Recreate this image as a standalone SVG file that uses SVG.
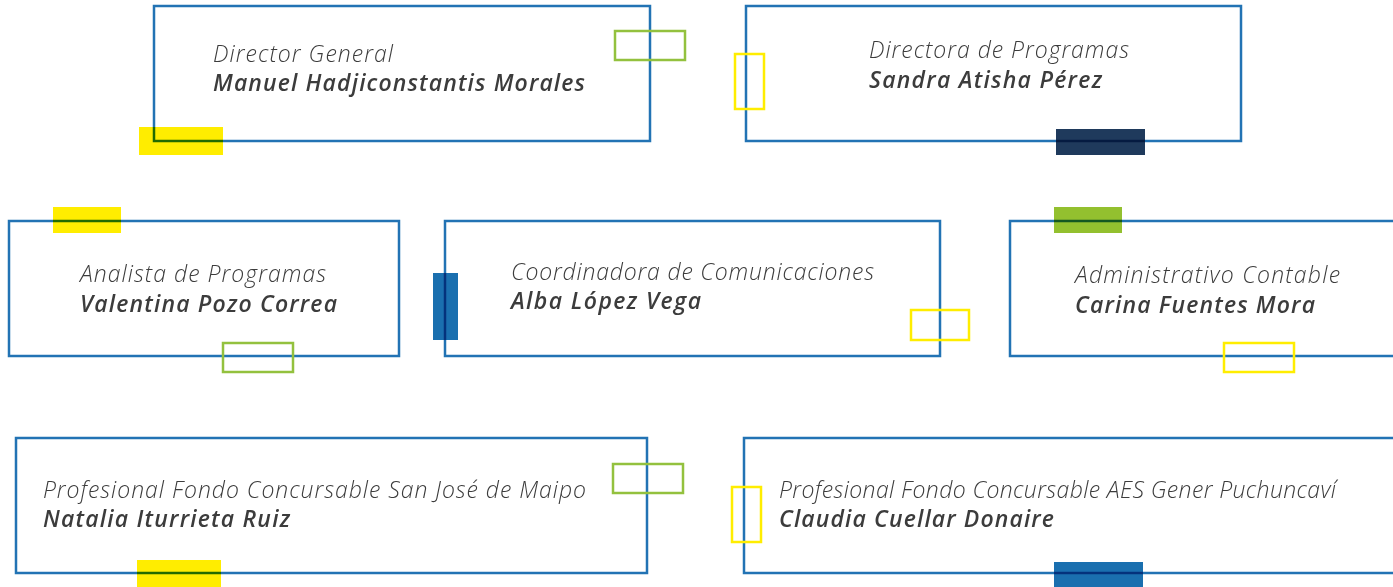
<svg xmlns="http://www.w3.org/2000/svg" width="1393" height="587" viewBox="0 0 1393 587">
<style>
.box{fill:none;stroke:#2273b4;stroke-width:2.5;mix-blend-mode:multiply}
.t{font-family:"Open Sans","Noto Sans",sans-serif;font-style:italic;font-weight:300;font-size:23px;fill:#3c3c3c}
.n{font-family:"Open Sans","Noto Sans",sans-serif;font-style:italic;font-weight:600;font-size:23px;fill:#3c3c3c}
.yf{fill:#ffed00}
.gf{fill:#93c02f}
.nf{fill:#1f3a5c}
.bf{fill:#1a6faf}
.yo{fill:none;stroke:#ffed00;stroke-width:2.5}
.go{fill:none;stroke:#93c13e;stroke-width:2.5}
</style>
<rect width="1393" height="587" fill="#ffffff"/>
<g id="connectors"></g>
<g id="node-director-general">
<rect class="yf" x="139" y="127" width="84" height="28"/>
<rect class="box" x="154" y="6" width="496" height="135"/>
<rect class="go" x="615" y="31" width="70" height="29"/>
<text class="t" x="213" y="62" textLength="180">Director General</text>
<text class="n" x="213" y="91" textLength="372">Manuel Hadjiconstantis Morales</text>
</g>
<g id="node-directora-programas">
<rect class="nf" x="1056" y="129" width="89" height="26"/>
<rect class="box" x="746" y="6" width="495" height="135"/>
<rect class="yo" x="735" y="54" width="29" height="55"/>
<text class="t" x="869" y="58" textLength="260">Directora de Programas</text>
<text class="n" x="869" y="88" textLength="233">Sandra Atisha Pérez</text>
</g>
<g id="node-analista">
<rect class="yf" x="53" y="207" width="68" height="26"/>
<rect class="box" x="9" y="221" width="390" height="135"/>
<rect class="go" x="223" y="343" width="70" height="29"/>
<text class="t" x="80" y="282" textLength="246">Analista de Programas</text>
<text class="n" x="80" y="312" textLength="257">Valentina Pozo Correa</text>
</g>
<g id="node-coordinadora">
<rect class="bf" x="433" y="273" width="25" height="67"/>
<rect class="box" x="445" y="221" width="495" height="135"/>
<rect class="yo" x="911" y="310" width="58" height="30"/>
<text class="t" x="511" y="280" textLength="363">Coordinadora de Comunicaciones</text>
<text class="n" x="511" y="309" textLength="190">Alba López Vega</text>
</g>
<g id="node-administrativo">
<rect class="gf" x="1054" y="207" width="68" height="26"/>
<rect class="box" x="1010" y="221" width="400" height="135"/>
<rect class="yo" x="1224" y="343" width="70" height="29"/>
<text class="t" x="1075" y="283" textLength="265">Administrativo Contable</text>
<text class="n" x="1075" y="313" textLength="240">Carina Fuentes Mora</text>
</g>
<g id="node-profesional-maipo">
<rect class="yf" x="137" y="560" width="84" height="27"/>
<rect class="box" x="16" y="438" width="631" height="135"/>
<rect class="go" x="613" y="464" width="70" height="29"/>
<text class="t" x="43" y="498" textLength="543">Profesional Fondo Concursable San José de Maipo</text>
<text class="n" x="43" y="527" textLength="247">Natalia Iturrieta Ruiz</text>
</g>
<g id="node-profesional-aes">
<rect class="bf" x="1054" y="562" width="89" height="25"/>
<rect class="box" x="744" y="438" width="660" height="135"/>
<rect class="yo" x="732" y="487" width="29" height="55"/>
<text class="t" x="779" y="498" textLength="557">Profesional Fondo Concursable AES Gener Puchuncaví</text>
<text class="n" x="779" y="527" textLength="275">Claudia Cuellar Donaire</text>
</g>
</svg>
